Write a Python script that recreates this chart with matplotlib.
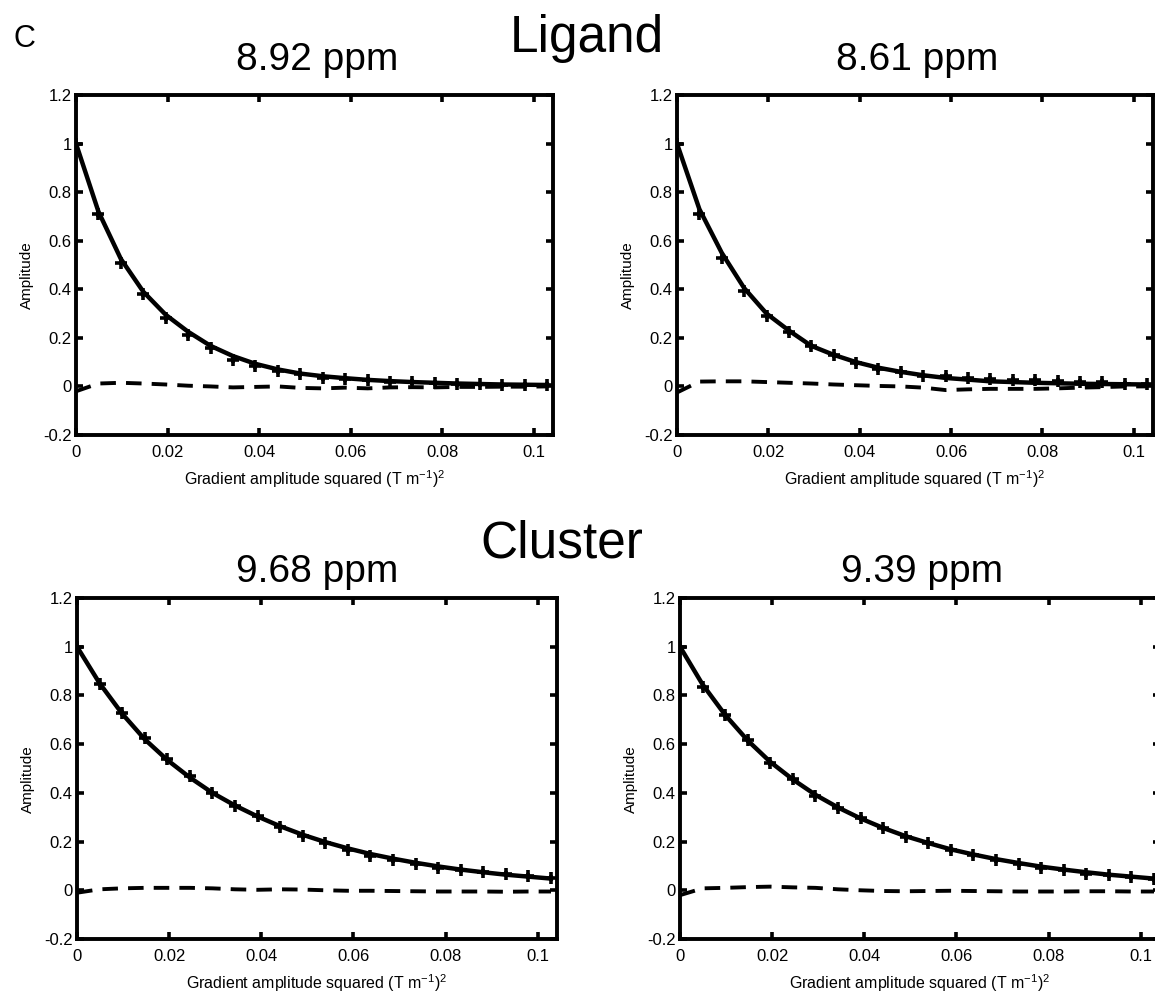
import matplotlib
matplotlib.use("Agg")
import matplotlib.pyplot as plt
import numpy as np

plt.rcParams['font.family'] = ['Liberation Sans', 'DejaVu Sans']
plt.rcParams['mathtext.fontset'] = 'custom'
plt.rcParams['mathtext.rm'] = 'Liberation Sans'
plt.rcParams['mathtext.it'] = 'Liberation Sans:italic'

# gradient amplitude squared (T m^-1)^2
gradient_sq = [0.0, 0.0049, 0.0098, 0.0147, 0.0196, 0.0245, 0.0294, 0.0343,
               0.0392, 0.0441, 0.0490, 0.0539, 0.0588, 0.0637, 0.0686, 0.0735,
               0.0784, 0.0833, 0.0882, 0.0931, 0.0980, 0.1029]

titles = ["8.92 ppm", "8.61 ppm", "9.68 ppm", "9.39 ppm"]
group_titles = ["Ligand", "Cluster"]
panel_label = "C"

# measured amplitudes
data_892 = [1.0, 0.71, 0.51, 0.38, 0.28, 0.21, 0.16, 0.11, 0.085, 0.065, 0.05,
            0.035, 0.03, 0.027, 0.02, 0.017, 0.015, 0.01, 0.008, 0.007, 0.005, 0.005]
data_861 = [1.0, 0.71, 0.53, 0.395, 0.29, 0.225, 0.165, 0.13, 0.097, 0.072, 0.058,
            0.045, 0.045, 0.033, 0.03, 0.028, 0.025, 0.022, 0.017, 0.017, 0.01, 0.008]
data_968 = [1.0, 0.845, 0.728, 0.627, 0.537, 0.468, 0.398, 0.348, 0.304, 0.258, 0.223,
            0.195, 0.164, 0.139, 0.125, 0.107, 0.093, 0.084, 0.074, 0.067, 0.060, 0.052]
data_939 = [1.0, 0.836, 0.72, 0.616, 0.523, 0.457, 0.387, 0.338, 0.297, 0.255, 0.220,
            0.195, 0.164, 0.143, 0.125, 0.109, 0.092, 0.084, 0.067, 0.064, 0.053, 0.046]

# fitted curves
fit_892 = [1.0, 0.72, 0.525, 0.39, 0.295, 0.225, 0.167, 0.125, 0.093, 0.07, 0.053,
           0.042, 0.034, 0.027, 0.022, 0.018, 0.015, 0.012, 0.010, 0.008, 0.007, 0.006]
fit_861 = [1.0, 0.73, 0.55, 0.405, 0.30, 0.23, 0.167, 0.13, 0.10, 0.077, 0.06,
           0.046, 0.035, 0.028, 0.021, 0.018, 0.015, 0.013, 0.011, 0.010, 0.009, 0.008]
fit_968 = [1.0, 0.85, 0.725, 0.62, 0.535, 0.463, 0.40, 0.348, 0.303, 0.263, 0.228,
           0.198, 0.172, 0.149, 0.13, 0.113, 0.098, 0.085, 0.074, 0.064, 0.056, 0.048]
fit_939 = [1.0, 0.845, 0.72, 0.615, 0.527, 0.455, 0.392, 0.340, 0.295, 0.256, 0.222,
           0.194, 0.168, 0.147, 0.128, 0.112, 0.097, 0.085, 0.074, 0.064, 0.056, 0.048]

# residuals
res_892 = [-0.02, 0.012, 0.015, 0.012, 0.008, 0.003, 0.0, -0.004, -0.002, 0.0, -0.006,
           -0.008, -0.005, -0.008, -0.004, -0.003, -0.004, -0.002, -0.002, -0.001, -0.001, 0.0]
res_861 = [-0.025, 0.02, 0.021, 0.021, 0.018, 0.015, 0.012, 0.008, 0.005, 0.002, 0.0,
           -0.005, -0.015, -0.012, -0.01, -0.01, -0.01, -0.008, -0.005, -0.003, 0.0, 0.0]
res_968 = [-0.01, 0.004, 0.008, 0.01, 0.01, 0.01, 0.008, 0.004, 0.002, 0.004, 0.003,
           0.0, -0.002, -0.002, -0.003, -0.004, -0.005, -0.005, -0.005, -0.006, -0.005, -0.005]
res_939 = [-0.02, 0.008, 0.01, 0.013, 0.015, 0.012, 0.01, 0.004, 0.0, -0.003, -0.004,
           -0.003, -0.002, -0.003, -0.004, -0.005, -0.005, -0.005, -0.004, -0.004, -0.005, -0.005]

errors = [0.012] * len(gradient_sq)

yticks = [-0.2, 0, 0.2, 0.4, 0.6, 0.8, 1, 1.2]
ytick_labels = ["-0.2", "0", "0.2", "0.4", "0.6", "0.8", "1", "1.2"]
xticks = [0, 0.02, 0.04, 0.06, 0.08, 0.1]
xtick_labels = ["0", "0.02", "0.04", "0.06", "0.08", "0.1"]

W, H = 1155, 992
fig = plt.figure(figsize=(W / 100, H / 100), dpi=100)

def axpos(x0, y0, x1, y1):
    return [x0 / W, 1 - y1 / H, (x1 - x0) / W, (y1 - y0) / H]

boxes = [(76, 95, 553, 435), (677, 95, 1153, 435),
         (77, 598, 557, 939), (680, 598, 1160, 939)]
title_pos = [(317, 70), (917, 70), (317, 582), (922, 582)]
datas = [data_892, data_861, data_968, data_939]
fits = [fit_892, fit_861, fit_968, fit_939]
ress = [res_892, res_861, res_968, res_939]

for box, title, tp, d, f, r in zip(boxes, titles, title_pos, datas, fits, ress):
    x0, y0, x1, y1 = box
    wpx, hpx = x1 - x0, y1 - y0
    ax = fig.add_axes(axpos(*box))
    ax.plot(gradient_sq, f, color='black', lw=3.2, solid_joinstyle='round')
    ax.errorbar(gradient_sq, d, yerr=errors, fmt='+', color='black', ms=9, mew=2.6,
                elinewidth=2.6, capsize=0)
    ax.plot(gradient_sq, r, color='black', lw=2.8, dashes=(4.0, 2.6))
    ax.set_xlim(0, 0.1042)
    ax.set_ylim(-0.2, 1.2)
    ax.set_yticks(yticks)
    ax.set_yticklabels(ytick_labels)
    ax.set_xticks(xticks)
    ax.set_xticklabels(xtick_labels)
    ax.tick_params(direction='in', length=5, width=2.6, top=True, right=True,
                   labelsize=12)
    ax.tick_params(axis='x', pad=7)
    ax.tick_params(axis='y', pad=3)
    for s in ax.spines.values():
        s.set_linewidth(2.8)
    ax.set_ylabel("Amplitude", fontsize=11)
    ax.yaxis.set_label_coords(-49 / wpx, 0.47)
    ax.yaxis.label.set_ha('center')
    ax.yaxis.label.set_va('center')
    ax.set_xlabel(r"Gradient amplitude squared (T m$^{\mathregular{-1}}$)$^{\mathregular{2}}$",
                  fontsize=11.5)
    ax.xaxis.set_label_coords(0.5, -44 / hpx)
    ax.xaxis.label.set_va('center')
    fig.text(tp[0] / W, 1 - tp[1] / H, title, fontsize=28, ha='center', va='baseline')

fig.text(24 / W, 1 - 47 / H, panel_label, fontsize=22, ha='center', va='baseline')
fig.text(587 / W, 1 - 52 / H, group_titles[0], fontsize=37, ha='center', va='baseline')
fig.text(562 / W, 1 - 558 / H, group_titles[1], fontsize=37, ha='center', va='baseline')

fig.savefig("out.png", dpi=100)
